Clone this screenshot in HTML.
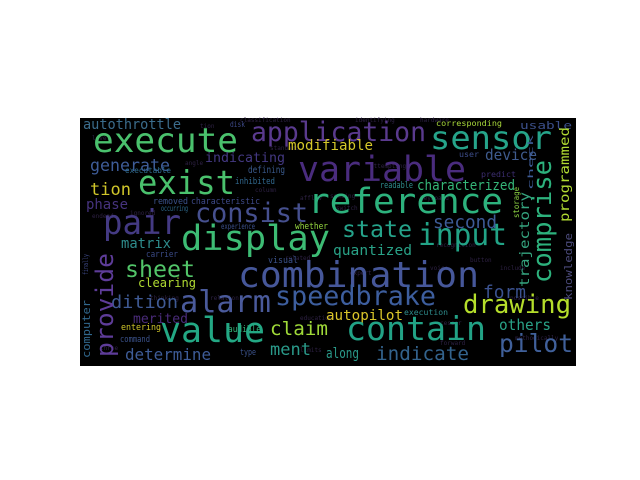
<!DOCTYPE html>
<html><head><meta charset="utf-8"><style>
html,body{margin:0;padding:0;background:#fff;width:640px;height:480px;overflow:hidden}
svg{display:block}
text{font-family:"DejaVu Sans Mono","Liberation Mono",monospace}
</style></head><body>
<svg width="640" height="480" viewBox="0 0 640 480">
<rect x="80" y="118" width="496" height="248" fill="#000"/>
<g font-size="6" fill="#3a2a55" opacity="0.8">
<text x="92" y="140">level</text><text x="200" y="128">tion</text><text x="240" y="122">classification</text><text x="355" y="122">identifying</text><text x="420" y="122">hardware</text>
<text x="185" y="165">angle</text><text x="270" y="150">standard</text><text x="255" y="192">column</text><text x="300" y="200">afflow</text><text x="330" y="198">sensing</text>
<text x="92" y="218">endend</text><text x="130" y="215">ignored</text><text x="420" y="200">keyboard</text><text x="436" y="247">recognition</text><text x="370" y="168">attempting</text>
<text x="430" y="270">voice</text><text x="470" y="262">button</text><text x="350" y="275">expert</text><text x="440" y="345">forward</text><text x="500" y="270">include</text>
<text x="150" y="300">thinking</text><text x="210" y="300">relation</text><text x="300" y="320">education</text><text x="300" y="352">limits</text><text x="515" y="340">methodically</text>
<text x="336" y="210">switch</text><text x="100" y="350">three</text><text x="285" y="260">related</text><text x="510" y="300">possible</text><text x="440" y="325">cesser</text>
</g>
<g>
<text x="83" y="129" font-size="14" fill="#3b6c8c" textLength="98" lengthAdjust="spacingAndGlyphs">autothrottle</text>
<text x="230" y="127" font-size="8" fill="#3e4a89" textLength="15" lengthAdjust="spacingAndGlyphs">disk</text>
<text x="93" y="152" font-size="34" fill="#4ac16d" textLength="145" lengthAdjust="spacingAndGlyphs">execute</text>
<text x="251" y="141" font-size="27" fill="#5a3a8e" textLength="175" lengthAdjust="spacingAndGlyphs">application</text>
<text x="436" y="126" font-size="8" fill="#a8d83a" textLength="66" lengthAdjust="spacingAndGlyphs">corresponding</text>
<text x="520" y="129" font-size="11" fill="#3b4f8a" textLength="52" lengthAdjust="spacingAndGlyphs">usable</text>
<text x="288" y="150" font-size="14" fill="#d6c82a" textLength="85" lengthAdjust="spacingAndGlyphs">modifiable</text>
<text x="430" y="149" font-size="32" fill="#26a48a" textLength="122" lengthAdjust="spacingAndGlyphs">sensor</text>
<text x="90" y="171" font-size="17" fill="#3e5c98" textLength="80" lengthAdjust="spacingAndGlyphs">generate</text>
<text x="205" y="162" font-size="13" fill="#443983" textLength="80" lengthAdjust="spacingAndGlyphs">indicating</text>
<text x="298" y="181" font-size="35" fill="#4a2c7e" textLength="168" lengthAdjust="spacingAndGlyphs">variable</text>
<text x="459" y="157" font-size="8" fill="#3d4d8a" textLength="20" lengthAdjust="spacingAndGlyphs">user</text>
<text x="485" y="160" font-size="15" fill="#3f5b8e" textLength="52" lengthAdjust="spacingAndGlyphs">device</text>
<text x="481" y="177" font-size="8" fill="#3c2e70" textLength="35" lengthAdjust="spacingAndGlyphs">predict</text>
<text x="125" y="173" font-size="8" fill="#2f6b8e" textLength="46" lengthAdjust="spacingAndGlyphs">executable</text>
<text x="248" y="173" font-size="10" fill="#3a5a8c" textLength="37" lengthAdjust="spacingAndGlyphs">defining</text>
<text x="235" y="184" font-size="9" fill="#31688e" textLength="40" lengthAdjust="spacingAndGlyphs">inhibited</text>
<text x="138" y="194" font-size="33" fill="#4ac16d" textLength="97" lengthAdjust="spacingAndGlyphs">exist</text>
<text x="90" y="195" font-size="17" fill="#d0c62a" textLength="41" lengthAdjust="spacingAndGlyphs">tion</text>
<text x="380" y="188" font-size="9" fill="#2e8c8c" textLength="33" lengthAdjust="spacingAndGlyphs">readable</text>
<text x="417" y="190" font-size="14" fill="#35b779" textLength="98" lengthAdjust="spacingAndGlyphs">characterized</text>
<text x="308" y="213" font-size="35" fill="#2db27d" textLength="195" lengthAdjust="spacingAndGlyphs">reference</text>
<text x="86" y="209" font-size="14" fill="#46337e" textLength="42" lengthAdjust="spacingAndGlyphs">phase</text>
<text x="153" y="204" font-size="9" fill="#3b528b" textLength="35" lengthAdjust="spacingAndGlyphs">removed</text>
<text x="191" y="204" font-size="9" fill="#3e4a89" textLength="69" lengthAdjust="spacingAndGlyphs">characteristic</text>
<text x="161" y="211" font-size="8" fill="#2f6b8e" textLength="27" lengthAdjust="spacingAndGlyphs">occurring</text>
<text x="195" y="222" font-size="27" fill="#46508f" textLength="113" lengthAdjust="spacingAndGlyphs">consist</text>
<text x="103" y="234" font-size="34" fill="#443a83" textLength="78" lengthAdjust="spacingAndGlyphs">pair</text>
<text x="221" y="229" font-size="8" fill="#3b4f8a" textLength="34" lengthAdjust="spacingAndGlyphs">experience</text>
<text x="295" y="229" font-size="9" fill="#95d840" textLength="33" lengthAdjust="spacingAndGlyphs">whether</text>
<text x="433" y="228" font-size="18" fill="#3e5c98" textLength="64" lengthAdjust="spacingAndGlyphs">second</text>
<text x="342" y="237" font-size="23" fill="#25a38a" textLength="70" lengthAdjust="spacingAndGlyphs">state</text>
<text x="181" y="250" font-size="35" fill="#3dbc74" textLength="149" lengthAdjust="spacingAndGlyphs">display</text>
<text x="418" y="245" font-size="30" fill="#22a386" textLength="89" lengthAdjust="spacingAndGlyphs">input</text>
<text x="121" y="248" font-size="14" fill="#2e8c8c" textLength="50" lengthAdjust="spacingAndGlyphs">matrix</text>
<text x="146" y="257" font-size="9" fill="#3a4a86" textLength="32" lengthAdjust="spacingAndGlyphs">carrier</text>
<text x="333" y="255" font-size="14" fill="#29a287" textLength="79" lengthAdjust="spacingAndGlyphs">quantized</text>
<text x="268" y="263" font-size="9" fill="#3b528b" textLength="30" lengthAdjust="spacingAndGlyphs">visual</text>
<text x="125" y="277" font-size="23" fill="#52c569" textLength="70" lengthAdjust="spacingAndGlyphs">sheet</text>
<text x="238" y="287" font-size="36" fill="#46579a" textLength="241" lengthAdjust="spacingAndGlyphs">combination</text>
<text x="138" y="287" font-size="12" fill="#b0da32" textLength="58" lengthAdjust="spacingAndGlyphs">clearing</text>
<text x="483" y="298" font-size="18" fill="#3b5290" textLength="43" lengthAdjust="spacingAndGlyphs">form</text>
<text x="275" y="305" font-size="27" fill="#3d5e9e" textLength="161" lengthAdjust="spacingAndGlyphs">speedbrake</text>
<text x="111" y="308" font-size="18" fill="#3f5a94" textLength="67" lengthAdjust="spacingAndGlyphs">dition</text>
<text x="180" y="312" font-size="30" fill="#4a5a9b" textLength="91" lengthAdjust="spacingAndGlyphs">alarm</text>
<text x="463" y="313" font-size="26" fill="#b5de2b" textLength="108" lengthAdjust="spacingAndGlyphs">drawing</text>
<text x="404" y="315" font-size="8" fill="#2e8c8c" textLength="44" lengthAdjust="spacingAndGlyphs">execution</text>
<text x="326" y="320" font-size="14" fill="#dbc62a" textLength="77" lengthAdjust="spacingAndGlyphs">autopilot</text>
<text x="133" y="323" font-size="13" fill="#4a2b7a" textLength="55" lengthAdjust="spacingAndGlyphs">merited</text>
<text x="121" y="330" font-size="9" fill="#d0c62a" textLength="40" lengthAdjust="spacingAndGlyphs">entering</text>
<text x="228" y="332" font-size="9" fill="#35b779" textLength="33" lengthAdjust="spacingAndGlyphs">audible</text>
<text x="499" y="330" font-size="15" fill="#29a287" textLength="52" lengthAdjust="spacingAndGlyphs">others</text>
<text x="270" y="335" font-size="19" fill="#a0da39" textLength="58" lengthAdjust="spacingAndGlyphs">claim</text>
<text x="346" y="340" font-size="33" fill="#22a386" textLength="140" lengthAdjust="spacingAndGlyphs">contain</text>
<text x="160" y="342" font-size="35" fill="#23a884" textLength="105" lengthAdjust="spacingAndGlyphs">value</text>
<text x="120" y="342" font-size="9" fill="#3b528b" textLength="30" lengthAdjust="spacingAndGlyphs">command</text>
<text x="499" y="352" font-size="25" fill="#40609a" textLength="74" lengthAdjust="spacingAndGlyphs">pilot</text>
<text x="270" y="355" font-size="17" fill="#2a9a8a" textLength="41" lengthAdjust="spacingAndGlyphs">ment</text>
<text x="240" y="355" font-size="9" fill="#3b528b" textLength="16" lengthAdjust="spacingAndGlyphs">type</text>
<text x="326" y="358" font-size="14" fill="#2a9a8a" textLength="33" lengthAdjust="spacingAndGlyphs">along</text>
<text x="125" y="360" font-size="16" fill="#3e5c98" textLength="86" lengthAdjust="spacingAndGlyphs">determine</text>
<text x="376" y="360" font-size="19" fill="#33638d" textLength="93" lengthAdjust="spacingAndGlyphs">indicate</text>
<!-- vertical words -->
<text transform="translate(551,283) rotate(-90)" font-size="26" fill="#2db27d" textLength="123" lengthAdjust="spacingAndGlyphs">comprise</text>
<text transform="translate(569,222) rotate(-90)" font-size="13" fill="#b0da32" textLength="95" lengthAdjust="spacingAndGlyphs">programmed</text>
<text transform="translate(529,287) rotate(-90)" font-size="13" fill="#35a47f" textLength="95" lengthAdjust="spacingAndGlyphs">trajectory</text>
<text transform="translate(572,300) rotate(-90)" font-size="11" fill="#4b4a7a" textLength="67" lengthAdjust="spacingAndGlyphs">knowledge</text>
<text transform="translate(519,218) rotate(-90)" font-size="8" fill="#8fd744" textLength="31" lengthAdjust="spacingAndGlyphs">storage</text>
<text transform="translate(533,190) rotate(-90)" font-size="7" fill="#3e5c98" textLength="55" lengthAdjust="spacingAndGlyphs">check</text>
<text transform="translate(113,357) rotate(-90)" font-size="24" fill="#5e3c99" textLength="104" lengthAdjust="spacingAndGlyphs">provide</text>
<text transform="translate(90,358) rotate(-90)" font-size="11" fill="#31688e" textLength="58" lengthAdjust="spacingAndGlyphs">computer</text>
<text transform="translate(88,275) rotate(-90)" font-size="7" fill="#3e4a89" textLength="21" lengthAdjust="spacingAndGlyphs">finally</text>
</g>
</svg>
</body></html>
